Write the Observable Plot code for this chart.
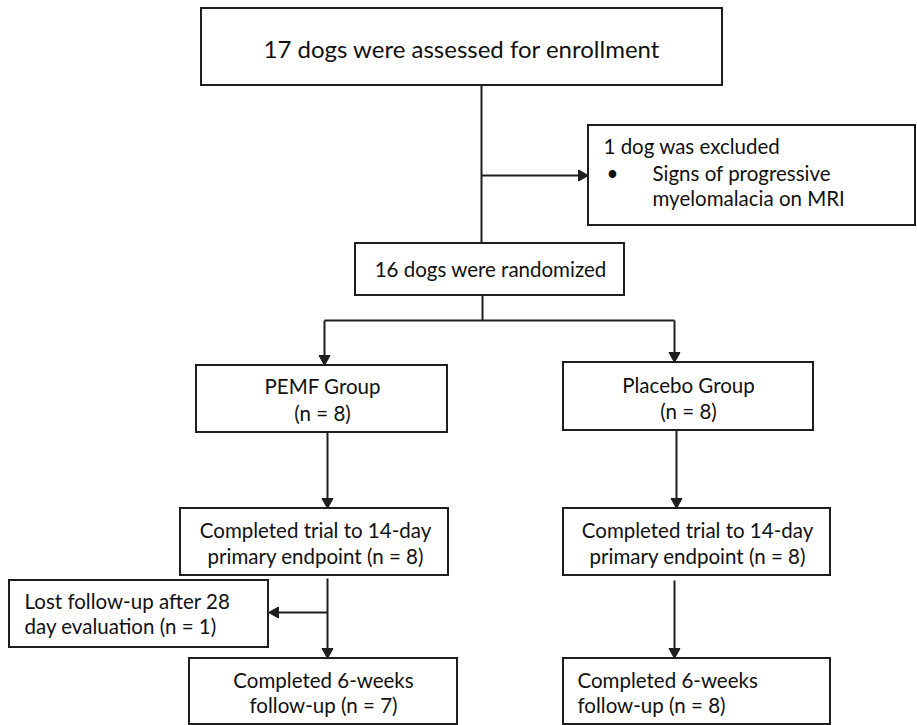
<!DOCTYPE html>
<html>
<head>
<meta charset="utf-8">
<script src="https://cdn.jsdelivr.net/npm/d3@7"></script>
<script src="https://cdn.jsdelivr.net/npm/@observablehq/plot@0.6"></script>
<style>
  html, body { margin: 0; padding: 0; background: #fff; }
  #chart svg { display: block; }
</style>
</head>
<body>
<div id="chart"></div>
<script>
// Flowchart boxes (in diagram units, 1 unit = 1 px)
const boxes = [
  {id: "enroll",     x1: 201, x2: 722, y1: 8,   y2: 85},
  {id: "excluded",   x1: 588, x2: 915, y1: 125, y2: 225},
  {id: "randomized", x1: 355, x2: 624, y1: 243, y2: 295},
  {id: "pemf",       x1: 196, x2: 447, y1: 365, y2: 432},
  {id: "placebo",    x1: 563, x2: 813, y1: 362, y2: 430},
  {id: "pemf14",     x1: 180, x2: 448, y1: 508, y2: 575},
  {id: "placebo14",  x1: 563, x2: 830, y1: 508, y2: 575},
  {id: "lost",       x1: 9,   x2: 268, y1: 580, y2: 647},
  {id: "pemf6",      x1: 189, x2: 457, y1: 658, y2: 724},
  {id: "placebo6",   x1: 563, x2: 830, y1: 658, y2: 724}
];

// Connectors: arrow = true draws a filled head at (x2, y2)
const connectors = [
  {x1: 481, y1: 85,  x2: 481, y2: 243, arrow: false},
  {x1: 481, y1: 175, x2: 588, y2: 175, arrow: true},
  {x1: 482, y1: 295, x2: 482, y2: 320, arrow: false},
  {x1: 324, y1: 320, x2: 674, y2: 320, arrow: false},
  {x1: 324, y1: 320, x2: 324, y2: 365, arrow: true},
  {x1: 674, y1: 320, x2: 674, y2: 362, arrow: true},
  {x1: 327, y1: 432, x2: 327, y2: 508, arrow: true},
  {x1: 676, y1: 430, x2: 676, y2: 508, arrow: true},
  {x1: 327, y1: 578, x2: 327, y2: 658, arrow: true},
  {x1: 327, y1: 612, x2: 268, y2: 612, arrow: true},
  {x1: 674, y1: 580, x2: 674, y2: 658, arrow: true}
];

// Text lines (y = baseline)
const labels = [
  {text: "17 dogs were assessed for enrollment", x: 461, y: 57, anchor: "middle", size: 24},
  {text: "1 dog was excluded", x: 603, y: 153, anchor: "start", size: 20.5},
  {text: "•", x: 606, y: 180, anchor: "start", size: 20.5},
  {text: "Signs of progressive", x: 652, y: 180, anchor: "start", size: 20.5},
  {text: "myelomalacia on MRI", x: 652, y: 205, anchor: "start", size: 20.5},
  {text: "16 dogs were randomized", x: 490, y: 276, anchor: "middle", size: 20.5},
  {text: "PEMF Group", x: 322, y: 393, anchor: "middle", size: 20.5},
  {text: "(n = 8)", x: 322, y: 420, anchor: "middle", size: 20.5},
  {text: "Placebo Group", x: 688, y: 392, anchor: "middle", size: 20.5},
  {text: "(n = 8)", x: 688, y: 418, anchor: "middle", size: 20.5},
  {text: "Completed trial to 14-day", x: 315, y: 537, anchor: "middle", size: 20.5},
  {text: "primary endpoint (n = 8)", x: 315, y: 563, anchor: "middle", size: 20.5},
  {text: "Completed trial to 14-day", x: 697, y: 537, anchor: "middle", size: 20.5},
  {text: "primary endpoint (n = 8)", x: 697, y: 563, anchor: "middle", size: 20.5},
  {text: "Lost follow-up after 28", x: 24, y: 608, anchor: "start", size: 20.5},
  {text: "day evaluation (n = 1)", x: 24, y: 633, anchor: "start", size: 20.5},
  {text: "Completed 6-weeks", x: 323, y: 687, anchor: "middle", size: 20.5},
  {text: "follow-up (n = 7)", x: 323, y: 712, anchor: "middle", size: 20.5},
  {text: "Completed 6-weeks", x: 577, y: 687, anchor: "start", size: 20.5},
  {text: "follow-up (n = 8)", x: 577, y: 712, anchor: "start", size: 20.5}
];

// Build arrowhead triangles from connector geometry
const headLen = 10, headHalf = 5.5;
const heads = [];
connectors.filter(d => d.arrow).forEach((d, i) => {
  const dx = d.x2 - d.x1, dy = d.y2 - d.y1, L = Math.hypot(dx, dy);
  const ux = dx / L, uy = dy / L, px = -uy, py = ux;
  const bx = d.x2 - ux * headLen, by = d.y2 - uy * headLen;
  heads.push({k: i, x: d.x2, y: d.y2});
  heads.push({k: i, x: bx + px * headHalf, y: by + py * headHalf});
  heads.push({k: i, x: bx - px * headHalf, y: by - py * headHalf});
  heads.push({k: i, x: d.x2, y: d.y2});
});
// shorten arrow shafts so they end at the head base
const shafts = connectors.map(d => {
  if (!d.arrow) return d;
  const dx = d.x2 - d.x1, dy = d.y2 - d.y1, L = Math.hypot(dx, dy);
  return {...d, x2: d.x2 - dx / L * (headLen - 1), y2: d.y2 - dy / L * (headLen - 1)};
});

const ink = "#1e1e1e";
const font = "Lato, 'Open Sans', sans-serif";

const groups = d3.groups(labels, d => d.size, d => d.anchor);
const textMarks = [];
for (const [s, byAnchor] of groups) {
  for (const [a, rows] of byAnchor) {
    textMarks.push(Plot.text(rows, {
      x: "x", y: "y", text: "text", textAnchor: a,
      lineAnchor: "bottom", fontSize: s, fill: "#111", fontFamily: font
    }));
  }
}

const chart = Plot.plot({
  width: 917,
  height: 725,
  margin: 0,
  x: {domain: [0, 917], range: [0, 917], axis: null},
  y: {domain: [0, 725], range: [0, 725], axis: null},
  style: {background: "#fff", fontFamily: font},
  marks: [
    Plot.link(shafts, {x1: "x1", y1: "y1", x2: "x2", y2: "y2", stroke: ink, strokeWidth: 2, strokeLinecap: "butt"}),
    Plot.line(heads, {x: "x", y: "y", z: "k", fill: ink, stroke: ink, strokeWidth: 1, curve: "linear-closed"}),
    Plot.rect(boxes, {x1: "x1", x2: "x2", y1: "y1", y2: "y2", fill: "white", stroke: ink, strokeWidth: 2}),
    ...textMarks
  ]
});
document.getElementById("chart").appendChild(chart);
</script>
</body>
</html>
